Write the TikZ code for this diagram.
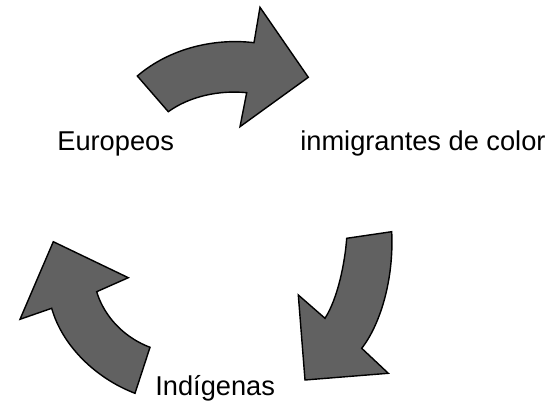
\documentclass[tikz,border=0pt]{standalone}
\usepackage{fontspec}
\setmainfont{Liberation Sans}
\usepackage{tikz}
\usetikzlibrary{positioning}

\begin{document}
\begin{tikzpicture}[x = 0.02cm, y = -0.02cm,
    bigarrow/.style = {draw=black, line width=0.8pt, fill=black!62, line join=miter},
    label/.style = {anchor=base west, inner sep=0, font=\fontsize{15.5}{18}\selectfont}]

        \useasboundingbox (0,0) rectangle (551,411);

        % top arrow
        \draw[bigarrow] (137.3,76) -- (168.3,111.7)
            .. controls (190,96) and (220,90) .. (246.7,92.7)
            -- (240,126.7) -- (308.3,77.3) -- (260,7.3) -- (254,42.7)
            .. controls (215,38) and (170,48) .. cycle;

        % right arrow
        \draw[bigarrow] (391.7,231.7) -- (346.7,238.3)
            .. controls (345,262) and (338,298) .. (325,318.3)
            -- (298.3,295) -- (305,380) -- (388.3,373.3) -- (361.7,348.3)
            .. controls (380,325) and (394,280) .. cycle;

        % left arrow
        \draw[bigarrow] (53.3,241.7) -- (20,319.3) -- (51.7,308.3)
            .. controls (62,345) and (95,378) .. (135,393.3)
            -- (150,347.3)
            .. controls (118,335) and (102,310) .. (96.7,291.7)
            -- (128.3,277.7) -- cycle;

        \node[label] (eur) at (57,151) {Europeos};
        \node[label] (inm) at (300,151) {inmigrantes de color};
        \node[label] (ind) at (155,396) {Indígenas};
        \end{tikzpicture}
\end{document}
